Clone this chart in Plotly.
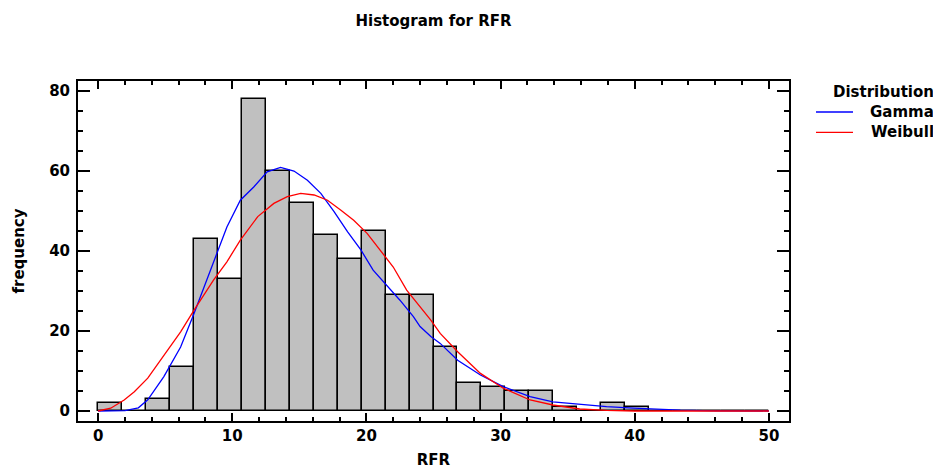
import numpy as np
import plotly.graph_objects as go

# ---- data ----
bin_start = 0.0
bin_end = 50.0
counts = [2, 0, 3, 11, 43, 33, 78, 60, 52, 44, 38, 45, 29, 29,
          16, 7, 6, 5, 5, 1, 0, 2, 1, 0, 0, 0, 0, 0]

gamma_x = [0, 1, 2, 3, 3.7, 4.9, 6.15, 7.15, 8.6, 9.6, 10.6, 11.6, 12.6, 13.6,
           14.6, 15.6, 16.6, 17.6, 18.6, 19.6, 20.5, 21.5, 22.5, 23.5, 24.0,
           24.8, 25.5, 26.8, 28.5, 30.2, 32.2, 33.9, 35.9, 37.9, 39.9, 41.9,
           43.4, 46, 50]
gamma_y = [0, 0, 0.1, 0.8, 2.8, 8.6, 16, 24.4, 36.9, 46, 52.7, 56, 59.8, 60.9,
           60, 57.7, 54.4, 49.8, 44.8, 40.2, 35.2, 31.5, 27.7, 23.6, 21.1,
           18.6, 16.9, 12.7, 9, 6.1, 3.6, 2.3, 1.7, 1.1, 0.7, 0.4,
           0.2, 0.05, 0]

weibull_x = [0, 0.94, 1.94, 2.7, 3.7, 4.9, 6.15, 7.15, 8.6, 9.6, 10.6, 11.9,
             13.1, 14.1, 15.1, 16.1, 17.1, 18.1, 19.05, 20.05, 21.0, 22.0, 23.0,
             24.0, 24.8, 25.5, 26.8, 28.5, 30.2, 32.2, 33.9, 35.9, 37.9, 40, 50]
weibull_y = [0, 0.7, 2.75, 4.8, 8.2, 14, 19.8, 25.2, 32.7, 37.3, 42.7, 48.6,
             51.9, 53.6, 54.4, 54, 52.7, 50.2, 47.7, 44.4, 40.2, 36, 30.2,
             26, 22.7, 19.4, 14.8, 9.4, 5.7, 2.75, 1.5, 0.5, 0.15, 0, 0]

x_ticks = [0, 10, 20, 30, 40, 50]
y_ticks = [0, 20, 40, 60, 80]

series_names = ["Gamma", "Weibull"]
series_colors = ["#0000ff", "#ff0000"]

# ---- layout geometry (page body has an 8px margin) ----
W, H = 933, 461
ML, MR, MT, MB = 70, 152, 73, 48
PW, PH = W - ML - MR, H - MT - MB


def px(xp):
    return (xp - ML) / PW


def py(yp):
    return (H - MB - yp) / PH


# ---- build ----
edges = np.linspace(bin_start, bin_end, len(counts) + 1)
centers = (edges[:-1] + edges[1:]) / 2
width = edges[1] - edges[0]

FONT = dict(family="DejaVu Sans", size=15, color="black", weight="bold")

fig = go.Figure()
fig.add_trace(go.Bar(
    x=centers, y=counts, width=width,
    marker=dict(color="#c0c0c0", line=dict(color="black", width=1.5)),
    showlegend=False, hoverinfo="x+y",
))
for name, xs, ys, col in zip(series_names, [gamma_x, weibull_x],
                             [gamma_y, weibull_y], series_colors):
    fig.add_trace(go.Scatter(
        x=xs, y=ys, mode="lines", name=name, showlegend=False,
        line=dict(color=col, width=1.3),
    ))

axis_common = dict(
    showline=True, linecolor="black", linewidth=2, mirror="ticks",
    ticks="inside", tickcolor="black", tickwidth=2,
    showgrid=False, zeroline=False, tickfont=FONT, automargin=False,
)

fig.update_xaxes(
    range=[-1.5, 51.5], tickvals=x_ticks, ticklen=8,
    minor=dict(dtick=2, tick0=0, ticks="inside", ticklen=4, tickwidth=1.5,
               tickcolor="black", showgrid=False),
    title=dict(text="RFR", font=FONT, standoff=13),
    **axis_common,
)
fig.update_yaxes(
    range=[-2.5, 82.5], tickvals=y_ticks, ticklen=12,
    minor=dict(dtick=5, tick0=0, ticks="inside", ticklen=5, tickwidth=1.5,
               tickcolor="black", showgrid=False),
    title=dict(text="frequency", font=FONT, standoff=21),
    ticklabelstandoff=3,
    **axis_common,
)

# manual legend
annotations = [dict(text="Distribution", x=px(928), y=py(84), xref="paper", yref="paper",
                    xanchor="right", yanchor="middle", showarrow=False, font=FONT)]
shapes = []
for i, (name, col) in enumerate(zip(series_names, series_colors)):
    yy = 104 + 20.3 * i
    annotations.append(dict(text=name, x=px(928), y=py(yy), xref="paper", yref="paper",
                            xanchor="right", yanchor="middle", showarrow=False, font=FONT))
    shapes.append(dict(type="line", xref="paper", yref="paper",
                       x0=px(808), x1=px(845), y0=py(yy), y1=py(yy),
                       line=dict(color=col, width=1.3)))

fig.update_layout(
    width=W, height=H,
    margin=dict(l=ML, r=MR, t=MT, b=MB),
    plot_bgcolor="white", paper_bgcolor="white",
    bargap=0,
    title=dict(text="Histogram for RFR", font=FONT, x=0.5, xref="paper",
               y=1 - 13 / H, yref="container", yanchor="middle", xanchor="center"),
    annotations=annotations,
    shapes=shapes,
    showlegend=False,
)

fig.write_html("out.html")
